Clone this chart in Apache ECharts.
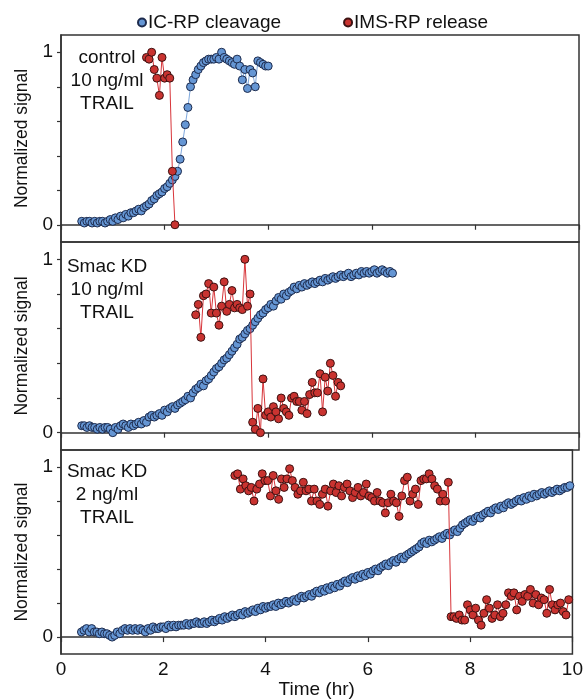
<!DOCTYPE html>
<html>
<head>
<meta charset="utf-8">
<title>IC-RP cleavage / IMS-RP release</title>
<script src="https://cdn.jsdelivr.net/npm/echarts@6/dist/echarts.min.js"></script>
<style>
  html, body { margin: 0; padding: 0; background: #fff; }
  #chart { width: 586px; height: 700px; }
</style>
</head>
<body>
<div id="chart"></div>
<script>
// series names
var seriesNames = ["IC-RP cleavage", "IMS-RP release"];

// text in the upper-left corner of each panel
var panelLabels = [
  ["control", "10 ng/ml", "TRAIL"],
  ["Smac KD", "10 ng/ml", "TRAIL"],
  ["Smac KD", "2 ng/ml", "TRAIL"]
];

// axis ticks
var xTickStep = 2;
var yTickValues = [0, 0.2, 0.4, 0.6, 0.8, 1];
var yLabelValues = [0, 1];

// panel 1 : control, 10 ng/ml TRAIL  (start time hr, sampling step hr, values)
var p1CleavageStart = 0.40, p1CleavageStep = 0.05;
var p1Cleavage = [
  0.02,0.01,0.02,0.02,0.01,0.02,0.01,0.02,0.02,0.01,
  0.02,0.03,0.02,0.04,0.03,0.05,0.04,0.06,0.05,0.07,
  0.07,0.08,0.09,0.08,0.10,0.11,0.12,0.14,0.15,0.17,
  0.18,0.19,0.21,0.22,0.24,0.26,0.28,0.31,0.38,0.48,
  0.58,0.68,0.80,0.84,0.87,0.90,0.92,0.94,0.95,0.96,
  0.96,0.96,0.97,0.96,1.00,0.97,0.96,0.95,0.94,0.93,
  0.96,0.92,0.84,0.90,0.79,0.90,0.88,0.80,0.95,0.94,
  0.93,0.92,0.92
];
var p1ReleaseStart = 1.65, p1ReleaseStep = 0.05;
var p1Release = [0.97,0.96,1.00,0.90,0.85,0.75,0.97,0.85,0.87,0.85,0.31,0.00];

// panel 2 : Smac KD, 10 ng/ml TRAIL
var p2CleavageStart = 0.40, p2CleavageStep = 0.05;
var p2Cleavage = [
  0.04,0.04,0.03,0.04,0.03,0.03,0.02,0.03,0.02,0.03,
  0.03,0.02,0.00,0.03,0.02,0.04,0.05,0.04,0.03,0.05,
  0.04,0.05,0.06,0.05,0.07,0.06,0.09,0.10,0.09,0.10,
  0.11,0.10,0.13,0.12,0.14,0.15,0.14,0.16,0.17,0.18,
  0.19,0.21,0.20,0.23,0.25,0.26,0.28,0.27,0.30,0.31,
  0.33,0.35,0.37,0.38,0.40,0.42,0.43,0.45,0.47,0.49,
  0.51,0.54,0.55,0.57,0.59,0.60,0.62,0.64,0.66,0.68,
  0.69,0.71,0.72,0.74,0.73,0.76,0.78,0.77,0.80,0.79,
  0.81,0.82,0.84,0.83,0.85,0.84,0.86,0.85,0.86,0.87,
  0.86,0.87,0.88,0.87,0.89,0.88,0.89,0.90,0.89,0.90,
  0.91,0.90,0.91,0.92,0.90,0.91,0.92,0.91,0.93,0.92,
  0.93,0.92,0.93,0.94,0.92,0.93,0.94,0.93,0.92,0.93,
  0.92
];
var p2ReleaseStart = 2.60, p2ReleaseStep = 0.05;
var p2Release = [
  0.68,0.74,0.55,0.79,0.80,0.86,0.69,0.84,0.69,0.62,
  0.73,0.87,0.70,0.74,0.82,0.72,0.74,0.72,0.71,1.00,
  0.73,0.80,
  0.06,0.02,0.14,0.00,0.31,0.10,0.12,0.09,0.15,0.12,
  0.08,0.20,0.14,0.12,0.10,0.20,0.21,0.18,0.18,0.13,
  0.18,0.11,0.22,0.29,0.23,0.23,0.34,0.12,0.32,0.24,
  0.40,0.33,0.21,0.29,0.27
];

// panel 3 : Smac KD, 2 ng/ml TRAIL
var p3CleavageStart = 0.40, p3CleavageStep = 0.05;
var p3Cleavage = [
  0.03,0.04,0.05,0.03,0.05,0.03,0.03,0.02,0.03,0.02,
  0.02,0.01,0.00,0.01,0.03,0.02,0.04,0.05,0.04,0.05,
  0.04,0.05,0.04,0.05,0.04,0.03,0.05,0.04,0.06,0.05,
  0.05,0.06,0.06,0.05,0.07,0.06,0.07,0.06,0.07,0.07,
  0.07,0.08,0.07,0.08,0.08,0.09,0.08,0.08,0.09,0.08,
  0.09,0.10,0.09,0.10,0.11,0.10,0.12,0.11,0.12,0.13,
  0.12,0.13,0.14,0.13,0.15,0.14,0.15,0.16,0.15,0.17,
  0.16,0.18,0.17,0.18,0.18,0.19,0.18,0.20,0.19,0.20,
  0.21,0.20,0.21,0.22,0.21,0.23,0.24,0.23,0.24,0.25,
  0.24,0.26,0.27,0.26,0.28,0.27,0.29,0.28,0.30,0.29,
  0.31,0.30,0.32,0.33,0.32,0.34,0.35,0.34,0.36,0.35,
  0.37,0.36,0.38,0.37,0.39,0.40,0.39,0.41,0.42,0.43,
  0.42,0.44,0.45,0.44,0.46,0.47,0.46,0.48,0.49,0.50,
  0.51,0.52,0.53,0.55,0.56,0.55,0.57,0.56,0.57,0.58,
  0.59,0.58,0.60,0.61,0.60,0.62,0.63,0.62,0.64,0.66,
  0.67,0.68,0.69,0.68,0.70,0.71,0.70,0.72,0.73,0.74,
  0.73,0.75,0.76,0.75,0.77,0.76,0.78,0.79,0.78,0.79,
  0.80,0.81,0.80,0.82,0.81,0.83,0.82,0.84,0.83,0.84,
  0.85,0.84,0.85,0.86,0.85,0.86,0.87,0.86,0.87,0.88,
  0.88,0.89
];
var p3ReleaseStart = 3.40, p3ReleaseStep = 0.0535;
var p3Release = [
  0.95,0.96,0.87,0.93,0.89,0.86,0.88,0.80,0.87,0.90,
  0.96,0.92,0.92,0.83,0.95,0.86,0.81,0.93,0.88,0.93,
  0.99,0.92,0.88,0.84,0.86,0.91,0.86,0.87,0.80,0.87,
  0.80,0.78,0.84,0.87,0.77,0.86,0.90,0.85,0.89,0.83,
  0.88,0.90,0.86,0.82,0.85,0.88,0.83,0.85,0.90,0.83,
  0.82,0.80,0.85,0.80,0.79,0.73,0.79,0.84,0.80,0.79,
  0.71,0.83,0.92,0.94,0.80,0.84,0.87,0.78,0.92,0.93,
  0.93,0.96,0.93,0.89,0.87,0.80,0.84,0.80,0.91,
  0.12,0.12,0.11,0.13,0.10,0.10,0.19,0.16,0.13,0.17,
  0.10,0.07,0.14,0.22,0.17,0.11,0.13,0.19,0.12,0.14,
  0.19,0.26,0.24,0.26,0.16,0.24,0.21,0.25,0.24,0.28,
  0.20,0.25,0.19,0.23,0.22,0.14,0.28,0.19,0.16,0.19,
  0.20,0.15,0.13,0.22
];

// 把采样序列变成 [时间, 值]
function toPairs(start, step, vals) {
  return vals.map(function (v, i) {
    return [Math.round((start + i * step) * 1000) / 1000, v];
  });
}

var font = "'Liberation Sans', Arial, Helvetica, sans-serif";
var blueFill = "#6596d4", blueEdge = "#1d2b4d", blueLine = "#7fa8dd";
var redFill = "#c93330", redEdge = "#3d1212", redLine = "#d8353a";

var panels = [
  { cleave: toPairs(p1CleavageStart, p1CleavageStep, p1Cleavage), release: toPairs(p1ReleaseStart, p1ReleaseStep, p1Release) },
  { cleave: toPairs(p2CleavageStart, p2CleavageStep, p2Cleavage), release: toPairs(p2ReleaseStart, p2ReleaseStep, p2Release) },
  { cleave: toPairs(p3CleavageStart, p3CleavageStep, p3Cleavage), release: toPairs(p3ReleaseStart, p3ReleaseStep, p3Release) }
];

// panel boxes (px)
var gridTops = [35, 242, 450];
var gridHeights = [207, 208, 205];
var labelTops = [48, 257, 462];

var grids = [], xAxes = [], yAxes = [], series = [], graphics = [];
panels.forEach(function (p, k) {
  var last = k === panels.length - 1;
  grids.push({
    left: 61, right: 7, top: gridTops[k], height: gridHeights[k],
    show: true, borderColor: "#333", borderWidth: 1.5, containLabel: false
  });
  xAxes.push({
    type: "value", gridIndex: k, min: 0, max: 10, interval: xTickStep,
    splitLine: { show: false },
    axisLine: { lineStyle: { color: "#333", width: 1.5 } },
    axisTick: { show: true, length: 5, lineStyle: { color: "#333", width: 1.2 } },
    axisLabel: { show: last, margin: 6, color: "#111", fontSize: 19, fontFamily: font },
    name: last ? "Time (hr)" : "", nameLocation: "middle", nameGap: 25,
    nameTextStyle: { color: "#111", fontSize: 19, fontFamily: font }
  });
  yAxes.push({
    type: "value", gridIndex: k, min: -0.1, max: 1.1,
    splitLine: { show: false },
    axisLine: { show: true, lineStyle: { color: "#333", width: 1.5 } },
    axisTick: { show: true, length: 4, customValues: yTickValues, lineStyle: { color: "#333", width: 1.2 } },
    axisLabel: { margin: 8, customValues: yLabelValues, color: "#111", fontSize: 19, fontFamily: font },
    name: "Normalized signal", nameLocation: "middle", nameRotate: 90, nameGap: 27,
    nameTextStyle: { color: "#111", fontSize: 17.5, fontFamily: font }
  });
  series.push({
    name: seriesNames[0], type: "line", xAxisIndex: k, yAxisIndex: k,
    data: p.cleave, symbol: "circle", symbolSize: 8, showSymbol: true,
    lineStyle: { color: blueLine, width: 1 },
    itemStyle: { color: blueFill, borderColor: blueEdge, borderWidth: 1 },
    z: 2
  });
  series.push({
    name: seriesNames[1], type: "line", xAxisIndex: k, yAxisIndex: k,
    data: p.release, symbol: "circle", symbolSize: 8, showSymbol: true,
    lineStyle: { color: redLine, width: 1 },
    itemStyle: { color: redFill, borderColor: redEdge, borderWidth: 1 },
    z: 3
  });
  // 每行单独居中
  panelLabels[k].forEach(function (line, j) {
    graphics.push({
      type: "text", x: 107, y: labelTops[k] + j * 23,
      style: {
        text: line, textAlign: "center", textVerticalAlign: "top",
        font: "19px " + font, fill: "#111"
      },
      z: 10
    });
  });
});

var myChart = echarts.init(document.getElementById("chart"), null, { renderer: "canvas" });
var option = {
  animation: false,
  backgroundColor: "#fff",
  legend: {
    data: seriesNames, left: 132, top: 8, itemGap: 62,
    icon: "circle", itemWidth: 8, itemHeight: 8,
    textStyle: { color: "#111", fontSize: 19, fontFamily: font, padding: [0, 0, 0, -3] }
  },
  grid: grids,
  xAxis: xAxes,
  yAxis: yAxes,
  series: series,
  graphic: graphics
};
myChart.setOption(option);
</script>
</body>
</html>
